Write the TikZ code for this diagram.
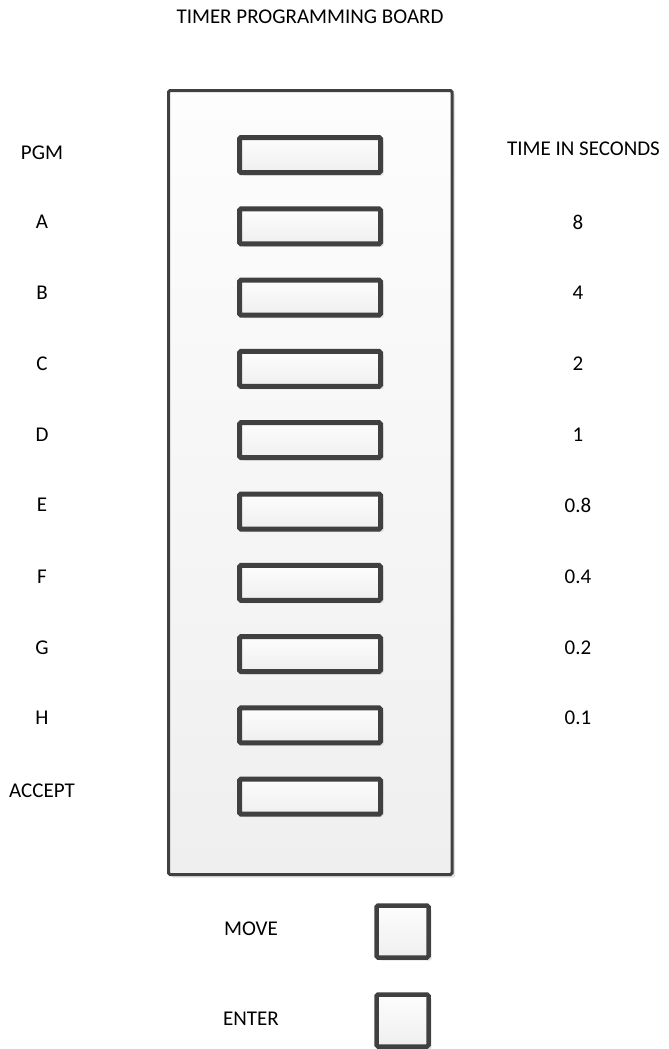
\documentclass[tikz,border=0pt]{standalone}
\usepackage{fontspec}
\setmainfont{Carlito}
\usetikzlibrary{shadows}
\definecolor{edge}{HTML}{404040}
\definecolor{fillTop}{HTML}{FDFDFD}
\definecolor{fillBot}{HTML}{EFEFEF}
\definecolor{shade}{HTML}{E2E2E2}
\tikzset{
  lbl/.style={font=\fontsize{21}{25}\selectfont, inner sep=0pt, anchor=center},
  board/.style={draw=edge, line width=3pt, rounded corners=1.5pt, top color=fillTop, bottom color=fillBot,
    drop shadow={shadow xshift=3pt, shadow yshift=-3pt, fill=shade, opacity=1}},
  slot/.style={draw=edge, line width=5pt, rounded corners=1.5pt, minimum width=141pt, minimum height=35pt,
    inner sep=0pt, outer sep=0pt, top color=fillTop, bottom color=fillBot,
    drop shadow={shadow xshift=3pt, shadow yshift=-3pt, fill=shade, opacity=1}},
  key/.style={draw=edge, line width=4.5pt, rounded corners=1.5pt, minimum width=52pt, minimum height=52pt,
    inner sep=0pt, outer sep=0pt, top color=fillTop, bottom color=fillBot,
    drop shadow={shadow xshift=3pt, shadow yshift=-3pt, fill=shade, opacity=1}},
}
\begin{document}
\begin{tikzpicture}[x=1pt, y=-1pt]
\useasboundingbox (0,0) rectangle (669,1049);
\node[lbl] (title) at (310,17) {TIMER PROGRAMMING BOARD};
\node[board, minimum width=283.5pt, minimum height=784pt, inner sep=0pt] (brd) at (310.25,482.5) {};
% slots
\foreach \i/\y in {0/155,1/226.3,2/297.6,3/368.9,4/440.2,5/511.5,6/582.8,7/654.1,8/725.4,9/796.7}{
  \node[slot] (s\i) at (310,\y) {};
}
% left labels
\node[lbl] (lpgm) at (42,153) {PGM};
\node[lbl] (la) at (42,222) {A};
\node[lbl] (lb) at (42,293) {B};
\node[lbl] (lc) at (42,364) {C};
\node[lbl] (ld) at (42,435) {D};
\node[lbl] (le) at (42,505) {E};
\node[lbl] (lf) at (42,577) {F};
\node[lbl] (lg) at (42,648) {G};
\node[lbl] (lh) at (42,718) {H};
\node[lbl] (lacc) at (42,791) {ACCEPT};
% right labels
\node[lbl] (rt) at (583.5,149) {TIME IN SECONDS};
\node[lbl] (r8) at (578,222) {8};
\node[lbl] (r4) at (578,293) {4};
\node[lbl] (r2) at (578,364) {2};
\node[lbl] (r1) at (578,435) {1};
\node[lbl] (r08) at (578,505) {0.8};
\node[lbl] (r04) at (578,577) {0.4};
\node[lbl] (r02) at (578,648) {0.2};
\node[lbl] (r01) at (578,718) {0.1};
% keys
\node[key] (kmove) at (402.5,931.5) {};
\node[key] (kenter) at (402.5,1020.5) {};
\node[lbl] (lmove) at (251,928.5) {MOVE};
\node[lbl] (lenter) at (251,1018.5) {ENTER};
\end{tikzpicture}
\end{document}
